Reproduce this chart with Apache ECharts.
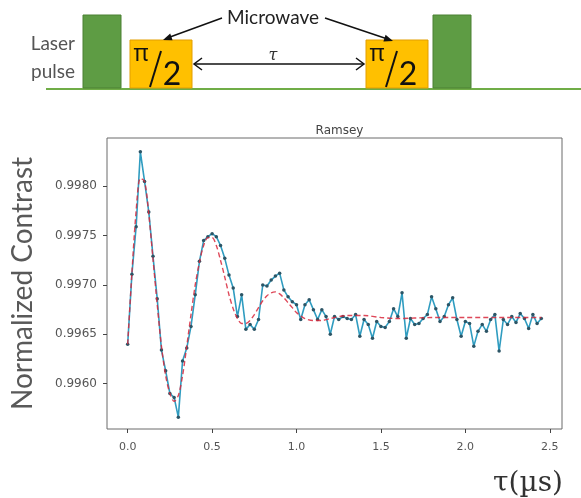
<!DOCTYPE html>
<html>
<head>
<meta charset="utf-8">
<title>Ramsey</title>
<script src="https://cdn.jsdelivr.net/npm/echarts@6/dist/echarts.min.js"></script>
<style>
    html, body {
        margin: 0;
        padding: 0;
        background: #fff;
    }
    #chart {
        width: 581px;
        height: 498px;
    }
</style>
</head>
<body>
<div id="chart"></div>
<script>
// free precession time tau (us)
const tauUs = [
    0.000, 0.025, 0.050, 0.075, 0.100, 0.125, 0.150, 0.175, 0.200, 0.225,
    0.250, 0.275, 0.300, 0.325, 0.350, 0.375, 0.400, 0.425, 0.450, 0.475,
    0.500, 0.525, 0.550, 0.575, 0.600, 0.625, 0.650, 0.675, 0.700, 0.725,
    0.750, 0.775, 0.800, 0.825, 0.850, 0.875, 0.900, 0.925, 0.950, 0.975,
    1.000, 1.025, 1.050, 1.075, 1.100, 1.125, 1.150, 1.175, 1.200, 1.225,
    1.250, 1.275, 1.300, 1.325, 1.350, 1.375, 1.400, 1.425, 1.450, 1.475,
    1.500, 1.525, 1.550, 1.575, 1.600, 1.625, 1.650, 1.675, 1.700, 1.725,
    1.750, 1.775, 1.800, 1.825, 1.850, 1.875, 1.900, 1.925, 1.950, 1.975,
    2.000, 2.025, 2.050, 2.075, 2.100, 2.125, 2.150, 2.175, 2.200, 2.225,
    2.250, 2.275, 2.300, 2.325, 2.350, 2.375, 2.400, 2.425, 2.450
];

// measured normalized contrast
const contrast = [
    0.99640, 0.99711, 0.99759, 0.99835, 0.99805, 0.99774, 0.99729, 0.99686, 0.99634, 0.99613,
    0.99590, 0.99586, 0.99566, 0.99623, 0.99636, 0.99658, 0.99690, 0.99724, 0.99745, 0.99749,
    0.99752, 0.99749, 0.99740, 0.99727, 0.99710, 0.99697, 0.99668, 0.99690, 0.99655, 0.99660,
    0.99655, 0.99665, 0.99700, 0.99699, 0.99705, 0.99709, 0.99712, 0.99695, 0.99688, 0.99683,
    0.99680, 0.99665, 0.99680, 0.99685, 0.99675, 0.99665, 0.99675, 0.99668, 0.99650, 0.99668,
    0.99665, 0.99668, 0.99666, 0.99665, 0.99670, 0.99648, 0.99665, 0.99660, 0.99646, 0.99663,
    0.99658, 0.99657, 0.99663, 0.99676, 0.99668, 0.99692, 0.99646, 0.99666, 0.99660, 0.99661,
    0.99666, 0.99670, 0.99688, 0.99676, 0.99663, 0.99668, 0.99680, 0.99687, 0.99665, 0.99648,
    0.99663, 0.99661, 0.99638, 0.99653, 0.99660, 0.99653, 0.99665, 0.99670, 0.99633, 0.99665,
    0.99660, 0.99668, 0.99662, 0.99671, 0.99666, 0.99656, 0.99670, 0.99661, 0.99666
];

// fitted curve
const fitTau = [
    0.000, 0.025, 0.050, 0.075, 0.100, 0.125, 0.150, 0.175, 0.200, 0.225,
    0.250, 0.275, 0.300, 0.325, 0.350, 0.375, 0.400, 0.425, 0.450, 0.475,
    0.500, 0.525, 0.550, 0.575, 0.600, 0.625, 0.650, 0.675, 0.700, 0.725,
    0.750, 0.775, 0.800, 0.825, 0.850, 0.875, 0.900, 0.925, 0.950, 0.975,
    1.000, 1.050, 1.100, 1.150, 1.200, 1.300, 1.400, 1.500, 1.600, 1.800,
    2.000, 2.200, 2.450
];
const fitValues = [
    0.99640, 0.99712, 0.99775, 0.99808, 0.99805, 0.99772, 0.99726, 0.99680, 0.99638, 0.99608,
    0.99590, 0.99582, 0.99588, 0.99608, 0.99638, 0.99670, 0.99700, 0.99723, 0.99740, 0.99748,
    0.99748, 0.99740, 0.99725, 0.99708, 0.99690, 0.99676, 0.99666, 0.99661, 0.99661, 0.99664,
    0.99670, 0.99677, 0.99684, 0.99689, 0.99692, 0.99693, 0.99691, 0.99687, 0.99682, 0.99677,
    0.99672, 0.99666, 0.99664, 0.99664, 0.99666, 0.99669, 0.99669, 0.99667, 0.99666, 0.99667,
    0.99667, 0.99667, 0.99667
];

const xTicks = [0.0, 0.5, 1.0, 1.5, 2.0, 2.5];
const yTicks = [0.9960, 0.9965, 0.9970, 0.9975, 0.9980];

const chart = echarts.init(document.getElementById('chart'));

const labelFont = 'Lato, "Open Sans", sans-serif';
const pulseGreen = '#5e9c44';
const mwYellow = '#ffc000';

// pulse sequence sketch above the plot
const pulseBlock = (x0) => [
    {
        type: 'rect',
        shape: { x: x0, y: 40, width: 62, height: 48 },
        style: { fill: mwYellow, stroke: '#e39e00', lineWidth: 1 }
    },
    {
        type: 'text',
        x: x0 + 11, y: 54,
        style: { text: 'π', font: '23px "Noto Sans", sans-serif', fill: '#111', align: 'center', verticalAlign: 'middle' }
    },
    {
        type: 'line',
        shape: { x1: x0 + 20, y1: 87, x2: x0 + 31, y2: 51 },
        style: { stroke: '#111', lineWidth: 2 }
    },
    {
        type: 'text',
        x: x0 + 42, y: 75,
        style: { text: '2', font: '32px ' + labelFont, fill: '#111', align: 'center', verticalAlign: 'middle' }
    }
];

const sketch = [
    {
        type: 'line',
        shape: { x1: 46, y1: 89, x2: 581, y2: 89 },
        style: { stroke: '#70ad47', lineWidth: 2 }
    },
    {
        type: 'rect',
        shape: { x: 83, y: 15, width: 38, height: 73 },
        style: { fill: pulseGreen, stroke: '#4a8033', lineWidth: 1 }
    },
    {
        type: 'rect',
        shape: { x: 433, y: 15, width: 38, height: 73 },
        style: { fill: pulseGreen, stroke: '#4a8033', lineWidth: 1 }
    },
    {
        type: 'text',
        x: 75, y: 44,
        style: { text: 'Laser', font: '19px ' + labelFont, fill: '#555', align: 'right', verticalAlign: 'middle' }
    },
    {
        type: 'text',
        x: 75, y: 72,
        style: { text: 'pulse', font: '19px ' + labelFont, fill: '#555', align: 'right', verticalAlign: 'middle' }
    },
    ...pulseBlock(130),
    ...pulseBlock(366),
    {
        type: 'text',
        x: 273, y: 18,
        style: { text: 'Microwave', font: '19px ' + labelFont, fill: '#222', align: 'center', verticalAlign: 'middle' }
    },
    {
        type: 'line',
        shape: { x1: 222, y1: 18, x2: 170, y2: 37 },
        style: { stroke: '#111', lineWidth: 1.5 }
    },
    {
        type: 'polygon',
        shape: { points: [[163, 40], [172.6, 40.2], [170.2, 33.6]] },
        style: { fill: '#111' }
    },
    {
        type: 'line',
        shape: { x1: 325, y1: 18, x2: 386, y2: 38.5 },
        style: { stroke: '#111', lineWidth: 1.5 }
    },
    {
        type: 'polygon',
        shape: { points: [[393, 41], [383.4, 41.4], [385.6, 34.8]] },
        style: { fill: '#111' }
    },
    {
        type: 'line',
        shape: { x1: 194, y1: 64, x2: 364, y2: 64 },
        style: { stroke: '#111', lineWidth: 1.5 }
    },
    {
        type: 'polyline',
        shape: { points: [[202, 58], [194, 64], [202, 70]] },
        style: { stroke: '#111', lineWidth: 1.5, fill: null }
    },
    {
        type: 'polyline',
        shape: { points: [[356, 58], [364, 64], [356, 70]] },
        style: { stroke: '#111', lineWidth: 1.5, fill: null }
    },
    {
        type: 'text',
        x: 273, y: 56,
        style: { text: 'τ', font: 'italic 16px "DejaVu Serif", serif', fill: '#333', align: 'center', verticalAlign: 'middle' }
    }
];

const option = {
    backgroundColor: '#fff',
    animation: false,
    title: {
        text: 'Ramsey',
        left: 334.5,
        top: 120,
        textAlign: 'center',
        textStyle: { fontFamily: '"DejaVu Sans"', fontSize: 12, fontWeight: 'normal', color: '#444' }
    },
    grid: {
        left: 107,
        top: 138,
        right: 19,
        bottom: 66,
        show: true,
        borderColor: '#6b6b6b',
        borderWidth: 1,
        backgroundColor: 'transparent'
    },
    xAxis: {
        type: 'value',
        min: -0.1225,
        max: 2.5725,
        name: 'τ(µs)',
        nameLocation: 'end',
        nameGap: 1,
        nameTextStyle: {
            fontFamily: '"DejaVu Serif", serif',
            fontSize: 28,
            color: '#333',
            align: 'right',
            verticalAlign: 'top',
            padding: [41, 0, 0, 0]
        },
        splitLine: { show: false },
        axisLine: { show: false, onZero: false },
        axisTick: { show: true, customValues: xTicks, length: 4, lineStyle: { color: '#444', width: 1 } },
        axisLabel: {
            customValues: xTicks,
            formatter: (v) => v.toFixed(1),
            fontFamily: '"DejaVu Sans"',
            fontSize: 11,
            color: '#555',
            margin: 13
        }
    },
    yAxis: {
        type: 'value',
        min: 0.99554,
        max: 0.99849,
        name: 'Normalized Contrast',
        nameLocation: 'middle',
        nameRotate: 90,
        nameGap: 70,
        nameTextStyle: { fontFamily: labelFont, fontSize: 28, color: '#595959' },
        splitLine: { show: false },
        axisLine: { show: false, onZero: false },
        axisTick: { show: true, customValues: yTicks, length: 4, lineStyle: { color: '#444', width: 1 } },
        axisLabel: {
            customValues: yTicks,
            formatter: (v) => v.toFixed(4),
            fontFamily: '"DejaVu Sans"',
            fontSize: 12,
            color: '#555',
            margin: 10
        }
    },
    series: [
        {
            name: 'data',
            type: 'line',
            data: tauUs.map((t, i) => [t, contrast[i]]),
            symbol: 'circle',
            symbolSize: 3.5,
            itemStyle: { color: '#2c5566' },
            lineStyle: { color: '#2f9cc0', width: 1.6 },
            z: 2
        },
        {
            name: 'fit',
            type: 'line',
            data: fitTau.map((t, i) => [t, fitValues[i]]),
            symbol: 'none',
            smooth: 0.3,
            lineStyle: { color: '#d8283c', width: 1.4, type: [5, 3], opacity: 0.85 },
            z: 3
        }
    ],
    graphic: sketch
};

chart.setOption(option);
</script>
</body>
</html>
